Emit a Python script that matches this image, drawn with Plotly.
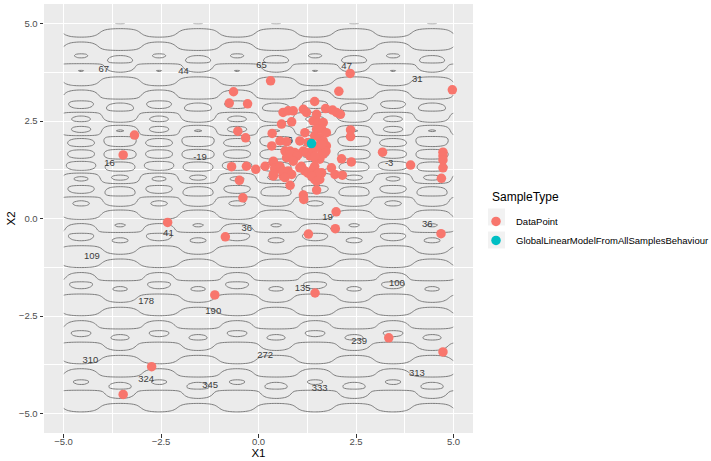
import numpy as np
import plotly.graph_objects as go

# ---- sample points (X1, X2) ----
data_x1 = [4.97, 2.35, 0.31, -0.64, 2.06, -0.75, -0.28, 1.44, -3.18, -3.47,
           3.18, 3.90, 4.73, 4.73, 4.73, 4.73, 4.69, 1.99, 1.97, 1.28,
           4.68, -2.33, -0.85, -1.12, 1.45, 3.34, 4.73, -2.74, -3.47,
           -0.53, -0.33, 0.35, -0.69, -0.31, -0.07, 0.17, -0.49, -0.40, 0.81,
           1.49, 1.15, 1.16, 2.13, 2.38, 2.36, 2.36, 0.63, 0.76, 0.89,
           1.15, 1.23, 0.59, 0.85, 1.72, 1.90, 2.00, 2.10, 0.34, 0.55,
           0.72, 1.87, 1.96, 2.15,
           1.49, 1.40, 1.53, 1.66, 1.49, 1.62, 1.74, 1.44, 1.57, 1.66,
           0.68, 0.81, 0.93, 1.02, 1.15, 1.23, 1.32, 0.72, 0.89, 1.40,
           1.53, 1.62, 1.44, 1.57, 1.66, 0.38, 0.42, 0.55, 0.63, 0.38,
           1.06, 1.19, 1.27, 1.40, 1.49, 1.62, 1.44, 1.57, 1.27, 1.19,
           1.06, 1.74, 1.73, 1.10, 1.44, 1.53, 1.36, 1.49, 1.62, 1.44,
           0.38, 0.42, 0.55, 0.63, 0.38, 0.76, 0.85, 0.68, 0.85, 0.98,
           0.89]
data_x2 = [3.30, 3.72, 3.53, 3.25, 3.26, 2.96, 2.94, 3.00, 2.14, 1.63,
           1.70, 1.37, 1.70, 1.60, 1.50, 1.30, 1.03, 0.17, -0.26, -0.40,
           -0.39, -0.10, -0.47, -1.96, -1.91, -3.06, -3.42, -3.80, -4.51,
           2.24, 2.07, 2.18, 1.33, 1.34, 1.26, 1.34, 0.98, 0.53, 0.85,
           0.73, 0.60, 0.49, 1.53, 1.45, 2.27, 2.10, 2.72, 2.76, 2.76,
           2.80, 2.72, 2.42, 2.48, 2.82, 2.78, 2.72, 2.67, 1.86, 1.99,
           1.97, 1.30, 1.13, 1.11,
           2.67, 2.50, 2.46, 2.46, 2.29, 2.29, 2.20, 2.12, 2.07, 1.99,
           1.73, 1.73, 1.69, 1.65, 1.73, 1.69, 1.60, 1.56, 1.52, 1.77,
           1.86, 1.73, 1.56, 1.52, 1.65, 1.43, 1.26, 1.26, 1.09, 1.09,
           1.30, 1.22, 1.16, 1.26, 1.13, 1.17, 1.00, 1.00, 1.95, 2.20,
           1.99, 1.86, 1.73, 1.34, 1.34, 1.17, 1.09, 0.96, 1.90, 1.60,
           1.47, 1.30, 1.34, 1.22, 1.13, 1.22, 1.13, 1.05, 1.65, 1.60,
           1.47]

model_x1 = [1.36]
model_x2 = [1.92]

# ---- labelled values shown on the surface ----
label_x1 = [-3.97, -1.92, 0.08, 2.26, 4.07, -3.82, -1.50, 0.81, 3.35,
            1.77, -2.31, -0.30, 4.33, -4.27, 3.55, 1.13, -2.88, -1.16,
            2.58, 0.17, -4.31, -2.88, 4.06, -1.24, 1.57]
label_x2 = [3.81, 3.76, 3.92, 3.90, 3.57, 1.41, 1.56, 2.00, 1.41,
            0.03, -0.39, -0.27, -0.15, -0.97, -1.67, -1.81, -2.14, -2.38,
            -3.15, -3.51, -3.65, -4.12, -3.97, -4.29, -4.36]
label_text = ["67", "44", "65", "47", "31", "16", "-19", "6", "-3",
              "19", "41", "36", "36", "109", "100", "135", "178", "190",
              "239", "272", "310", "324", "313", "345", "333"]

# ---- response surface drawn as contour lines ----
slope = 62.0          # rise per unit of X2 away from the valley
x2_center = 1.6
valley_width = 0.55
ripple_base = 15.0    # ripple strength far from the valley
ripple_peak = 19.0    # extra ripple strength inside the valley
ripple_spread = 1.3
ripple_px1 = 2.0
ripple_px2 = 0.62
gx = np.linspace(-5, 5, 241)
gy = np.linspace(-5, 5, 241)
GX, GY = np.meshgrid(gx, gy)
ripple_amp = ripple_base + ripple_peak * np.exp(-((GY - x2_center) / ripple_spread) ** 2)
surface = (slope * np.sqrt((GY - x2_center) ** 2 + valley_width ** 2)
           + ripple_amp * np.cos(2 * np.pi * (GX - 0.45) / ripple_px1)
           * np.cos(2 * np.pi * (GY - 0.1) / ripple_px2))

GRAY = "#7d7d7d"
FONT = "Liberation Sans"
fig = go.Figure()
fig.add_trace(go.Contour(
    x=gx, y=gy, z=surface,
    contours=dict(coloring="lines", start=0, end=450, size=25),
    colorscale=[[0, GRAY], [1, GRAY]],
    line=dict(width=1),
    showscale=False, showlegend=False, hoverinfo="skip",
))
fig.add_trace(go.Scatter(
    x=label_x1, y=label_x2, text=label_text, mode="text",
    textfont=dict(family=FONT, size=9.5, color="#3c3c3c"),
    showlegend=False, hoverinfo="skip",
))
fig.add_trace(go.Scatter(
    x=data_x1, y=data_x2, mode="markers", name="DataPoint",
    marker=dict(color="#F8766D", size=9.5),
))
fig.add_trace(go.Scatter(
    x=model_x1, y=model_x2, mode="markers",
    name="GlobalLinearModelFromAllSamplesBehaviour",
    marker=dict(color="#00BFC4", size=9.5),
))

axis_common = dict(
    range=[-5.5, 5.5], tick0=-5, dtick=2.5, tickformat=".1f",
    showgrid=True, gridcolor="white", gridwidth=1.1,
    zeroline=False, showline=False,
    ticks="outside", ticklen=3.5, tickcolor="#333333",
    tickfont=dict(family=FONT, size=9.5, color="#4d4d4d"),
    minor=dict(dtick=1.25, tick0=-5, showgrid=True, gridcolor="white",
               gridwidth=0.5),
)
fig.update_xaxes(**axis_common, ticklabelstandoff=-4,
                 title=dict(text="X1", standoff=1,
                            font=dict(family=FONT, size=11.5, color="black")))
fig.update_yaxes(**axis_common,
                 title=dict(text="X2", standoff=0,
                            font=dict(family=FONT, size=11.5, color="black")))

# light key backgrounds behind the legend symbols
for y0, y1 in ((0.4837, 0.5234), (0.4301, 0.4697)):
    fig.add_shape(type="rect", xref="paper", yref="paper",
                  x0=1.035, x1=1.0746, y0=y0, y1=y1,
                  fillcolor="#F2F2F2", line=dict(width=0), layer="below")

fig.add_annotation(text="SampleType", xref="paper", yref="paper",
                   x=1.0396, y=0.550, xanchor="left", yanchor="middle",
                   showarrow=False, font=dict(family=FONT, size=12, color="black"))

fig.update_layout(
    width=711, height=461,
    margin=dict(l=44, r=238, t=4, b=28, autoexpand=False),
    plot_bgcolor="#EBEBEB", paper_bgcolor="white",
    font=dict(family=FONT),
    legend=dict(
        x=1.007, xanchor="left", y=0.527, yanchor="top",
        font=dict(family=FONT, size=9.5, color="black"), itemwidth=30,
        bgcolor="rgba(0,0,0,0)",
    ),
)

fig.write_html("out.html")
